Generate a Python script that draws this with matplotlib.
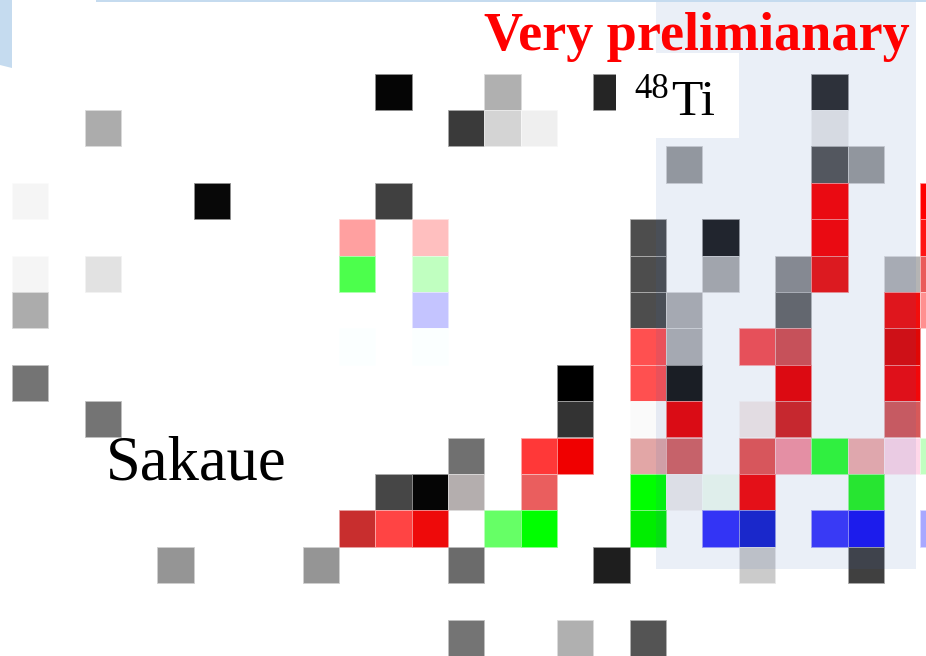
import numpy as np
import matplotlib.pyplot as plt
from matplotlib.colors import to_rgb
from matplotlib.patches import Rectangle, Polygon

# nuclide cells: column (N direction), row (downwards), fill colour
cell_col = [10, 13, 16, 22,
            2, 12, 13, 14, 22,
            18, 22, 23,
            0, 5, 10, 22, 25,
            9, 11, 17, 19, 22, 25,
            0, 2, 9, 11, 17, 19, 21, 22, 24, 25,
            0, 11, 17, 18, 21, 24, 25,
            9, 11, 17, 18, 20, 21, 24,
            0, 15, 17, 18, 21, 24,
            2, 15, 17, 18, 20, 21, 24,
            12, 14, 15, 17, 18, 20, 21, 22, 23, 24, 25,
            10, 11, 12, 14, 17, 18, 19, 20, 23,
            9, 10, 11, 13, 14, 17, 19, 20, 22, 23, 25,
            4, 8, 12, 16, 20, 23,
            12, 15, 17]
cell_row = [0, 0, 0, 0,
            1, 1, 1, 1, 1,
            2, 2, 2,
            3, 3, 3, 3, 3,
            4, 4, 4, 4, 4, 4,
            5, 5, 5, 5, 5, 5, 5, 5, 5, 5,
            6, 6, 6, 6, 6, 6, 6,
            7, 7, 7, 7, 7, 7, 7,
            8, 8, 8, 8, 8, 8,
            9, 9, 9, 9, 9, 9, 9,
            10, 10, 10, 10, 10, 10, 10, 10, 10, 10, 10,
            11, 11, 11, 11, 11, 11, 11, 11, 11,
            12, 12, 12, 12, 12, 12, 12, 12, 12, 12, 12,
            13, 13, 13, 13, 13, 13,
            15, 15, 15]
cell_color = ['#050505', '#b0b0b0', '#252525', '#2c2c2c',
              '#acacac', '#3a3a3a', '#d4d4d4', '#efefef', '#e8e8e8',
              '#9d9d9d', '#565656', '#9c9c9c',
              '#f5f5f5', '#080808', '#404040', '#ff0000', '#ff0000',
              '#ffa0a0', '#ffbfbf', '#4d4d4d', '#1f1f1f', '#ff0000', '#ff1414',
              '#f5f5f5', '#e2e2e2', '#4cff4c', '#c0ffc0', '#4d4d4d', '#adadad',
              '#8e8e8e', '#ef1210', '#b4b4b4', '#ea5a5a',
              '#acacac', '#c4c4ff', '#4d4d4d', '#b2b2b2', '#686868', '#f20e0c',
              '#ff9090',
              '#fbffff', '#fbffff', '#ff5050', '#b2b2b2', '#fa4e50', '#d75050',
              '#e00705',
              '#747474', '#000000', '#ff5050', '#171715', '#ef0000', '#f20709',
              '#747474', '#333333', '#fafafa', '#ed0303', '#f6eae8', '#d72220',
              '#d75959',
              '#707070', '#ff3838', '#f00000', '#e2a6a6', '#d76262', '#e95552',
              '#f895a2', '#2fff33', '#f2afad', '#ffd7e9', '#c0ffc0',
              '#464646', '#050505', '#b4aeae', '#ea5e5e', '#00ff00', '#efecec',
              '#f2fef2', '#f80707', '#26f422',
              '#c82e2e', '#ff4444', '#ee0a0a', '#66ff66', '#00ff00', '#00ee00',
              '#332ffd', '#1722ce', '#3a36fd', '#1915f3', '#a8a8ff',
              '#959595', '#959595', '#6b6b6b', '#1e1e1e', '#cbcbcb', '#404040',
              '#747474', '#b0b0b0', '#545454']

W, H = 926, 656
cw, ch = 36.33, 36.4       # cell size in pixels
x0, y0 = 12.0, 73.5        # top-left corner of cell (0, 0)


def px(x):
    return (x - x0) / cw


def py(y):
    return (y - y0) / ch


fig = plt.figure(figsize=(W / 100, H / 100), dpi=100)
ax = fig.add_axes([0, 0, 1, 1])
ax.set_xlim(px(0), px(W))
ax.set_ylim(py(H), py(0))
ax.axis('off')

# soft outline: each cell's own colour washed towards white
edge_colors = [tuple(0.45 * np.array(to_rgb(c)) + 0.55) for c in cell_color]
ax.bar(np.array(cell_col), 1, bottom=np.array(cell_row), width=1,
       align='edge', color=cell_color, edgecolor=edge_colors, linewidth=0.6,
       zorder=2)

# highlighted region
ax.add_patch(Rectangle((px(656), py(2)), px(916) - px(656), py(569) - py(2),
                       facecolor='#3963b6', alpha=0.1, lw=0, zorder=3))
# label box
ax.add_patch(Rectangle((px(616), py(53)), px(739) - px(616), py(138) - py(53),
                       facecolor='white', lw=0, zorder=4))

ax.text(px(484), py(50), 'Very prelimianary', color='#ff0000',
        fontsize=39, fontweight='bold', family='Liberation Serif',
        ha='left', va='baseline', zorder=6)
ax.text(px(634), py(98), '48', color='black', fontsize=25,
        family='Liberation Serif', ha='left', va='baseline', zorder=6)
ax.text(px(671), py(115), 'Ti', color='black', fontsize=37,
        family='Liberation Serif', ha='left', va='baseline', zorder=6)
ax.text(px(106), py(479), 'Sakaue', color='black', fontsize=45,
        family='Liberation Serif', ha='left', va='baseline', zorder=6)

# slide frame bits in the top-left corner
ax.add_patch(Polygon([(px(0), py(0)), (px(12), py(0)), (px(12), py(68)),
                      (px(0), py(65))], closed=True, facecolor='#c5dbef',
                     lw=0, zorder=5))
ax.add_patch(Rectangle((px(96), py(0)), px(W) - px(96), py(1.6) - py(0),
                       facecolor='#c5dbef', lw=0, zorder=5))

fig.savefig('out.png', dpi=100)
